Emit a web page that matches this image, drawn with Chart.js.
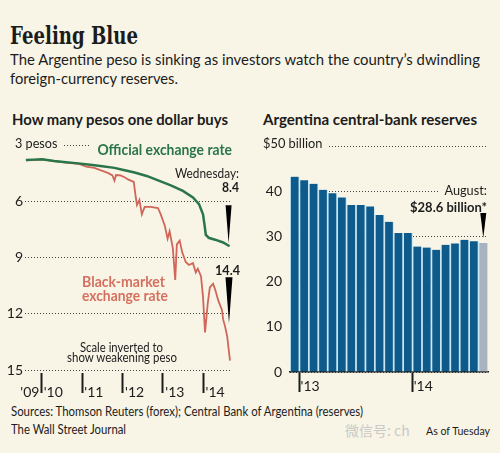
<!DOCTYPE html>
<html>
<head>
<meta charset="utf-8">
<script src="https://cdn.jsdelivr.net/npm/chart.js@4.4.1/dist/chart.umd.min.js"></script>
<style>
html, body { margin: 0; padding: 0; background: #f8f5e7; }
#page { position: relative; width: 500px; height: 453px; overflow: hidden; font-family: Lato, "Open Sans", sans-serif; color: #1c1c1c; }
.t { position: absolute; white-space: nowrap; line-height: 1; transform-origin: 0 0; z-index: 2; }
.cover { background: #f8f5e7; }
canvas { position: absolute; }
</style>
</head>
<body>
<div id="page">
  <canvas id="peso" width="245" height="270" style="left:0;top:130px"></canvas>
  <canvas id="reserves" width="250" height="270" style="left:250px;top:130px"></canvas>

  <div class="t" data-w="128" style="left:10px;top:21px;font:bold 25px 'DejaVu Serif'">Feeling Blue</div>
  <div class="t" data-w="470" style="left:10px;top:51px;font-size:16px">The Argentine peso is sinking as investors watch the country’s dwindling</div>
  <div class="t" data-w="168" style="left:10px;top:70px;font-size:16px">foreign-currency reserves.</div>

  <div class="t" data-w="216" style="left:12px;top:111px;font-size:16px;font-weight:bold">How many pesos one dollar buys</div>
  <div class="t" data-w="214" style="left:263px;top:111px;font-size:16px;font-weight:bold">Argentina central-bank reserves</div>

  <div class="t cover" data-w="47" style="left:15px;top:136px;font-size:14px;padding-right:5px">3 pesos</div>
  <div class="t cover" data-w="142" style="left:90px;top:142px;font-size:15px;font-weight:bold;color:#2a7549;padding-left:8px">Official exchange rate</div>
  <div class="t" data-w="64" style="left:175px;top:167px;font-size:13px">Wednesday:</div>
  <div class="t" data-w="17" style="left:222px;top:180px;font-size:14px;font-weight:bold">8.4</div>
  <div class="t" data-w="25" style="left:215px;top:263px;font-size:14px;font-weight:bold">14.4</div>
  <div class="t" data-w="83" style="left:82px;top:274px;font-size:15px;font-weight:bold;color:#d5705e">Black-market</div>
  <div class="t" data-w="86" style="left:82px;top:288px;font-size:15px;font-weight:bold;color:#d5705e">exchange rate</div>
  <div class="t" data-w="83" style="left:80px;top:341px;font-size:13px">Scale inverted to</div>
  <div class="t" data-w="110" style="left:67px;top:351px;font-size:13px">show weakening peso</div>

  <div class="t cover" data-w="64" style="left:263px;top:136px;font-size:14px;padding-right:5px">$50 billion</div>
  <div class="t cover" data-w="48" style="left:439px;top:183px;font-size:14px;padding-left:6px">August:</div>
  <div class="t" data-w="77" style="left:410px;top:200px;font-size:14px;font-weight:bold">$28.6 billion*</div>

  <div class="t" data-w="352" style="left:11px;top:406px;font-size:12.5px">Sources: Thomson Reuters (forex); Central Bank of Argentina (reserves)</div>
  <div class="t" data-w="115" style="left:11px;top:424px;font-size:12.5px">The Wall Street Journal</div>
  <div class="t" style="left:345px;top:423px;font-size:14px;color:#c9c9c6;font-family:'Noto Sans CJK SC'">微信号: ch</div>
  <div class="t" data-w="64" style="left:426px;top:425px;font-size:12px">As of Tuesday</div>
</div>

<script>
// official and black-market pesos per dollar, decimal years
const officialDates = [2009.6, 2009.8, 2010.0, 2010.3, 2010.6, 2010.9, 2011.2, 2011.5, 2011.8, 2012.0, 2012.3, 2012.6, 2012.9, 2013.2, 2013.5, 2013.75, 2013.9, 2014.0, 2014.04, 2014.07, 2014.1, 2014.14, 2014.3, 2014.5, 2014.66];
const officialRate = [3.8, 3.78, 3.76, 3.85, 3.92, 3.98, 4.05, 4.13, 4.22, 4.32, 4.47, 4.65, 4.9, 5.15, 5.45, 5.8, 6.15, 6.7, 7.3, 7.8, 7.85, 7.95, 8.05, 8.2, 8.4];

const blackDates = [2009.6, 2009.8, 2010.0, 2010.3, 2010.6, 2010.9, 2011.1, 2011.3, 2011.5, 2011.65, 2011.75, 2011.8, 2011.84, 2011.95, 2012.05, 2012.15, 2012.28,
  2012.33, 2012.36, 2012.42, 2012.48, 2012.55, 2012.7, 2012.88, 2012.95, 2013.05, 2013.12, 2013.17, 2013.25, 2013.31, 2013.35, 2013.42, 2013.48,
  2013.57, 2013.65, 2013.75, 2013.82, 2013.87, 2013.95, 2014.0, 2014.05, 2014.12, 2014.17, 2014.25, 2014.3, 2014.38, 2014.47, 2014.5, 2014.55,
  2014.6, 2014.67];
const blackRate = [3.82, 3.8, 3.77, 3.86, 3.94, 4.0, 4.15, 4.22, 4.38, 4.5, 4.62, 4.9, 4.6, 4.62, 4.72, 4.85, 4.97,
  5.8, 6.2, 5.93, 6.7, 6.3, 6.3, 6.36, 6.7, 7.3, 8.0, 7.6, 8.5, 10.2, 8.3, 8.1, 8.7,
  9.24, 9.4, 9.3, 9.8, 9.6, 10.0, 11.1, 13.0, 11.4, 10.6, 10.4, 10.7, 11.3, 11.8, 12.3, 12.7,
  13.2, 14.5];

const pesoTicks = [3, 6, 9, 12, 15];
const yearTicks = [2010, 2011, 2012, 2013, 2014];
const yearLabels = ["'09", "'10", "'11", "'12", "'13", "'14"];
const yearLabelAt = [2009.7, 2010.28, 2011.29, 2012.3, 2013.3, 2014.3];

// reserves, $ billion, Dec 2012 .. Aug 2014
const reserveMonths = ['Dec 12', 'Jan 13', 'Feb 13', 'Mar 13', 'Apr 13', 'May 13', 'Jun 13', 'Jul 13', 'Aug 13', 'Sep 13', 'Oct 13', 'Nov 13', 'Dec 13',
  'Jan 14', 'Feb 14', 'Mar 14', 'Apr 14', 'May 14', 'Jun 14', 'Jul 14', 'Aug 14'];
const reserves = [43.3, 42.5, 41.7, 40.4, 39.6, 38.7, 37.0, 37.0, 36.7, 34.8, 33.3, 30.8, 30.8, 27.8, 27.6, 27.1, 28.2, 28.5, 29.3, 29.0, 28.6];
const reserveTicks = [0, 10, 20, 30, 40, 50];

const ink = '#1c1c1c';
const tickFont = { family: 'Lato', size: 14 };

Chart.defaults.font.family = 'Lato';
Chart.defaults.color = ink;

function wedge(ctx, x, tipY, len, half) {
  ctx.save();
  ctx.fillStyle = '#000';
  ctx.beginPath();
  ctx.moveTo(x - half, tipY - len);
  ctx.lineTo(x + half, tipY - len);
  ctx.lineTo(x, tipY);
  ctx.closePath();
  ctx.fill();
  ctx.restore();
}

// left: exchange rates
new Chart(document.getElementById('peso'), {
  type: 'line',
  data: {
    datasets: [
      {
        data: officialDates.map((d, i) => ({ x: d, y: officialRate[i] })),
        borderColor: '#2a7549', borderWidth: 2.5, pointRadius: 0, tension: 0
      },
      {
        data: blackDates.map((d, i) => ({ x: d, y: blackRate[i] })),
        borderColor: '#d0665a', borderWidth: 1.8, pointRadius: 0, tension: 0
      }
    ]
  },
  options: {
    responsive: false, animation: false, devicePixelRatio: 1,
    layout: { padding: { top: 15, right: 13, left: 0, bottom: 0 } },
    plugins: { legend: { display: false }, tooltip: { enabled: false } },
    scales: {
      x: {
        type: 'linear', min: 2009.578, max: 2014.72, weight: 0,
        afterBuildTicks: (s) => { s.ticks = yearTicks.map(v => ({ value: v })); },
        afterFit: (s) => { s.height = 0; },
        ticks: { display: false },
        grid: { drawOnChartArea: false, tickLength: 23, tickWidth: 2, tickColor: ink, tickBorderDash: [0, 3, 20, 40] },
        border: { display: false }
      },
      xl: {
        type: 'linear', position: 'bottom', min: 2009.578, max: 2014.72, weight: 1,
        afterBuildTicks: (s) => { s.ticks = yearLabelAt.map(v => ({ value: v })); },
        afterFit: (s) => { s.height = 30; },
        ticks: { autoSkip: false, maxRotation: 0, padding: 6, font: tickFont, color: ink,
          callback: (v, i) => yearLabels[i] },
        grid: { display: false },
        border: { display: false }
      },
      y: {
        type: 'linear', reverse: true, min: 3, max: 15,
        afterBuildTicks: (s) => { s.ticks = pesoTicks.map(v => ({ value: v })); },
        afterFit: (s) => { s.width = 25; },
        ticks: { padding: 2, font: tickFont, color: ink, callback: (v) => v === 3 ? '' : v },
        grid: { color: '#444', lineWidth: 1, drawTicks: false },
        border: { display: false, dash: [1, 2] }
      }
    }
  },
  plugins: [{
    id: 'wedges',
    afterDatasetsDraw(chart) {
      const { ctx, scales: { x, y } } = chart;
      wedge(ctx, x.getPixelForValue(officialDates[officialDates.length - 1]) - 1,
        y.getPixelForValue(officialRate[officialRate.length - 1]) - 3, 38, 3);
      wedge(ctx, x.getPixelForValue(blackDates[blackDates.length - 1]) - 1,
        y.getPixelForValue(12.5), 46, 3.5);
    }
  }]
});

// right: reserves
const barBlue = '#0d5a8b';
const barGrey = '#a9b3bf';
new Chart(document.getElementById('reserves'), {
  type: 'bar',
  data: {
    labels: reserveMonths,
    datasets: [{
      data: reserves,
      backgroundColor: reserves.map((v, i) => i === reserves.length - 1 ? barGrey : barBlue),
      borderColor: '#c9e7f3',
      borderWidth: { left: 1.2, right: 1.2, top: 0, bottom: 0 },
      borderSkipped: false,
      barPercentage: 1, categoryPercentage: 1
    }]
  },
  options: {
    responsive: false, animation: false, devicePixelRatio: 1,
    layout: { padding: { top: 15, right: 12, left: 0, bottom: 0 } },
    plugins: { legend: { display: false }, tooltip: { enabled: false } },
    scales: {
      x: {
        afterFit: (s) => { s.height = 28; },
        ticks: { autoSkip: false, maxRotation: 0, padding: -14, labelOffset: 6, font: tickFont, color: ink,
          callback: (v, i) => i === 1 ? "'13" : (i === 13 ? "'14" : '') },
        grid: { offset: true, drawOnChartArea: false, tickLength: 20, tickWidth: 2,
          tickColor: (c) => (c.index === 1 || c.index === 13) ? ink : 'rgba(0,0,0,0)' },
        border: { display: true, color: ink, width: 1.5 }
      },
      y: {
        min: 0, max: 50,
        afterBuildTicks: (s) => { s.ticks = reserveTicks.map(v => ({ value: v })); },
        afterFit: (s) => { s.width = 40; },
        ticks: { padding: 8, font: tickFont, color: ink, callback: (v) => v === 50 ? '' : v },
        grid: { color: '#444', lineWidth: 1, drawTicks: false },
        border: { display: false, dash: [1, 2] }
      }
    }
  },
  plugins: [{
    id: 'wedge',
    afterDatasetsDraw(chart) {
      const bar = chart.getDatasetMeta(0).data[reserves.length - 1];
      wedge(chart.ctx, bar.x, bar.y - 5, 25, 3);
    }
  }]
});

// squeeze the text to the widths of the printed graphic
document.querySelectorAll('[data-w]').forEach(el => {
  const w = el.getBoundingClientRect().width;
  el.style.transform = 'scaleX(' + (el.dataset.w / w).toFixed(3) + ')';
});
</script>
</body>
</html>
